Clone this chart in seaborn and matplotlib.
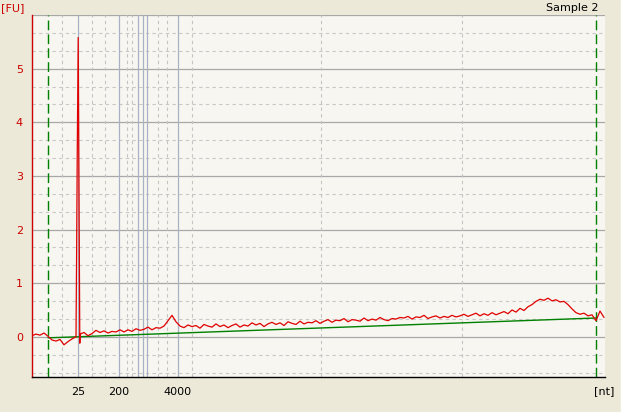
import numpy as np
import pandas as pd
import matplotlib
matplotlib.use("Agg")
import matplotlib.pyplot as plt
import seaborn as sns

# time axis in arbitrary run units, sampled every 4 units
trace_t = np.arange(0, 573, 4)
trace_fu = [
    0.02, 0.05, 0.03, 0.07, 0.01,
    -0.06, -0.08, -0.05, -0.15, -0.09, -0.04,
    0.00,
    0.05, 0.08, 0.02, 0.06,
    0.12, 0.08, 0.11, 0.07, 0.10, 0.09, 0.13,
    0.09, 0.13, 0.10, 0.15, 0.12, 0.14, 0.18, 0.13, 0.17, 0.16, 0.20,
    0.30, 0.40, 0.28, 0.20,
    0.17, 0.22, 0.19, 0.21, 0.16, 0.23, 0.20, 0.18, 0.24, 0.19, 0.22, 0.17,
    0.21, 0.24, 0.18, 0.22, 0.20,
    0.26, 0.22, 0.25, 0.19, 0.24, 0.27, 0.23, 0.26, 0.21, 0.28, 0.25, 0.23,
    0.29, 0.24, 0.27, 0.26, 0.30, 0.25,
    0.29, 0.32, 0.27, 0.31, 0.30, 0.34, 0.28, 0.32, 0.31, 0.29, 0.35, 0.30,
    0.33, 0.31, 0.36, 0.32, 0.30, 0.34, 0.33, 0.36,
    0.35, 0.38, 0.33, 0.37, 0.36, 0.40, 0.34, 0.37, 0.39, 0.35, 0.38, 0.36,
    0.40, 0.37, 0.39,
    0.42, 0.38, 0.41, 0.44, 0.39, 0.43, 0.40, 0.45, 0.41, 0.44, 0.47, 0.43,
    0.50, 0.46, 0.53, 0.49, 0.56, 0.60,
    0.66, 0.70, 0.68, 0.72, 0.67, 0.69, 0.65, 0.66,
    0.60, 0.52, 0.45, 0.42, 0.44, 0.39, 0.41,
    0.30, 0.48, 0.36,
]

# marker peak (25 nt)
peak_t = [44.6, 45.2, 46.2, 46.4, 46.8, 47.3, 47.8]
peak_fu = [1.5, 3.3, 5.58, 4.85, 3.3, 1.5, -0.12]

# baseline between lower and upper alignment markers
base_t = [16, 564]
base_fu = [-0.02, 0.35]
marker_t = [16, 564]

# ladder positions and labels
ladder_t = [46, 87, 106, 111, 115, 146]
ladder_labels = ["25", "200", "", "", "", "4000"]
minor_t = [30, 60, 73, 95, 100, 126, 135, 160, 289, 430]

y_ticks = [0, 1, 2, 3, 4, 5, 6]
y_labels = ["0", "1", "2", "3", "4", "5", ""]

trace = pd.DataFrame({"t": np.concatenate([trace_t, peak_t]),
                      "fu": np.concatenate([trace_fu, peak_fu])})
trace = trace.sort_values("t")
base = pd.DataFrame({"t": base_t, "fu": base_fu})

sns.set_style("white")
plt.rcParams["font.family"] = ["DejaVu Sans"]

red = "#cc0000"
green = "#008000"
outer_bg = "#ece9d8"
inner_bg = "#f7f6f0"

fig = plt.figure(figsize=(6.4, 4.12), dpi=100, facecolor=outer_bg)
ax = fig.add_axes([32 / 640, 35 / 412, 573 / 640, 362 / 412])
ax.set_facecolor(inner_bg)

# grid lines
for v in np.arange(-2, 18) / 3:
    if abs(v - round(v)) > 0.01:
        ax.axhline(v, color="#c8c8c8", lw=0.8, ls=(0, (3, 3)), zorder=0)
for v in y_ticks:
    ax.axhline(v, color="#a8a8a8", lw=0.9, zorder=0)
for v in minor_t:
    ax.axvline(v, color="#c4c4c4", lw=0.8, ls=(0, (3, 3)), zorder=0)
for v in ladder_t:
    ax.axvline(v, color="#aab0c6", lw=0.9, zorder=0)

for v in marker_t:
    ax.axvline(v, color=green, lw=1.0, ls=(0, (7, 3)), zorder=1)

sns.lineplot(data=base, x="t", y="fu", color=green, lw=1.0, ax=ax, zorder=2)
sns.lineplot(data=trace, x="t", y="fu", color="#e00000", lw=0.9, ax=ax,
             sort=False, estimator=None, zorder=3)

ax.set_xlim(0, 573)
ax.set_ylim(-0.75, 6.0)
ax.set_xlabel("")
ax.set_ylabel("")

ax.set_xticks(ladder_t)
ax.set_xticklabels(ladder_labels)
ax.set_yticks(y_ticks)
ax.set_yticklabels(y_labels)
ax.tick_params(axis="x", direction="out", length=3.6, width=0.8, pad=3.5,
               colors="black", labelsize=8)
ax.tick_params(axis="y", direction="out", length=3.6, width=0.8, pad=3,
               colors=red, labelsize=8)

for side in ["top", "right"]:
    ax.spines[side].set_visible(False)
ax.spines["left"].set_color(red)
ax.spines["left"].set_linewidth(1.0)
ax.spines["bottom"].set_color("black")
ax.spines["bottom"].set_linewidth(1.0)

fig.text(1 / 640, 1 - 8 / 412, "[FU]", color=red, fontsize=8,
         ha="left", va="center")
fig.text(599 / 640, 1 - 8 / 412, "Sample 2", color="black", fontsize=8,
         ha="right", va="center")
fig.text(604 / 640, 1 - 391 / 412, "[nt]", color="black", fontsize=8,
         ha="center", va="center")

# white strip on the right edge of the capture
fig.patches.append(plt.Rectangle((621 / 640, 0), 19 / 640, 1,
                                 transform=fig.transFigure, color="white",
                                 zorder=0))

fig.savefig("out.png", dpi=100, facecolor=outer_bg)
